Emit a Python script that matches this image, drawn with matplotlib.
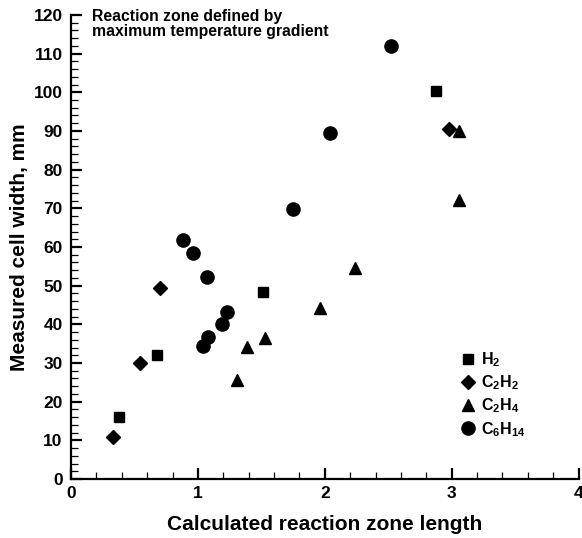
import matplotlib
matplotlib.use("Agg")
import matplotlib.pyplot as plt
from matplotlib.ticker import MultipleLocator

plt.rcParams['font.family'] = ['Liberation Sans', 'DejaVu Sans']
plt.rcParams['font.weight'] = 'bold'
plt.rcParams['mathtext.fontset'] = 'custom'
plt.rcParams['mathtext.rm'] = 'Liberation Sans:bold'
plt.rcParams['mathtext.it'] = 'Liberation Sans:bold'
plt.rcParams['mathtext.bf'] = 'Liberation Sans:bold'

# measured cell width vs calculated reaction zone length
h2_x = [0.38, 0.68, 1.51, 2.88]
h2_y = [16.1, 32.1, 48.4, 100.4]

c2h2_x = [0.33, 0.54, 0.70, 2.98]
c2h2_y = [10.9, 29.9, 49.5, 90.5]

c2h4_x = [1.31, 1.39, 1.53, 1.96, 2.24, 3.06, 3.06]
c2h4_y = [25.6, 34.1, 36.5, 44.1, 54.6, 72.1, 90.0]

c6h14_x = [0.88, 0.96, 1.07, 1.04, 1.08, 1.19, 1.23, 1.75, 2.04, 2.52]
c6h14_y = [61.8, 58.4, 52.2, 34.4, 36.8, 40.0, 43.1, 69.7, 89.5, 112.0]

fig = plt.figure(figsize=(5.82, 5.38), dpi=100)
ax = fig.add_axes([0.122, 0.1097, 0.872, 0.8625])

ax.plot(h2_x, h2_y, 's', color='black', markersize=7.3, label=r'H$_2$', clip_on=False)
ax.plot(c2h2_x, c2h2_y, 'D', color='black', markersize=7.5, label=r'C$_2$H$_2$', clip_on=False)
ax.plot(c2h4_x, c2h4_y, '^', color='black', markersize=8, label=r'C$_2$H$_4$', clip_on=False)
ax.plot(c6h14_x, c6h14_y, 'o', color='black', markersize=9.5, label=r'C$_6$H$_{14}$', clip_on=False)

ax.set_xlim(0, 4)
ax.set_ylim(0, 120)
ax.xaxis.set_major_locator(MultipleLocator(1))
ax.xaxis.set_minor_locator(MultipleLocator(0.2))
ax.yaxis.set_major_locator(MultipleLocator(10))
ax.yaxis.set_minor_locator(MultipleLocator(2))

ax.spines['top'].set_visible(False)
ax.spines['right'].set_visible(False)
ax.spines['left'].set_linewidth(1.6)
ax.spines['bottom'].set_linewidth(1.6)
ax.tick_params(which='major', direction='in', length=8, width=1.6, labelsize=12.5)
ax.tick_params(axis='x', which='major', pad=5)
ax.tick_params(axis='y', which='major', pad=6)
ax.tick_params(which='minor', direction='in', length=5, width=0.9)

ax.set_xlabel('Calculated reaction zone length', fontsize=15, fontweight='bold', labelpad=10)
ax.set_ylabel('Measured cell width, mm', fontsize=15, fontweight='bold', labelpad=3)

ax.text(0.163, 121.5, 'Reaction zone defined by\nmaximum temperature gradient',
        fontsize=11.3, fontweight='bold', va='top', ha='left', linespacing=0.95)

ax.legend(loc='lower left', bbox_to_anchor=(0.747, 0.07), frameon=False, fontsize=11.5,
          handletextpad=0.25, labelspacing=0.28, handlelength=1.2, borderpad=0)

fig.savefig("out.png", dpi=100)
